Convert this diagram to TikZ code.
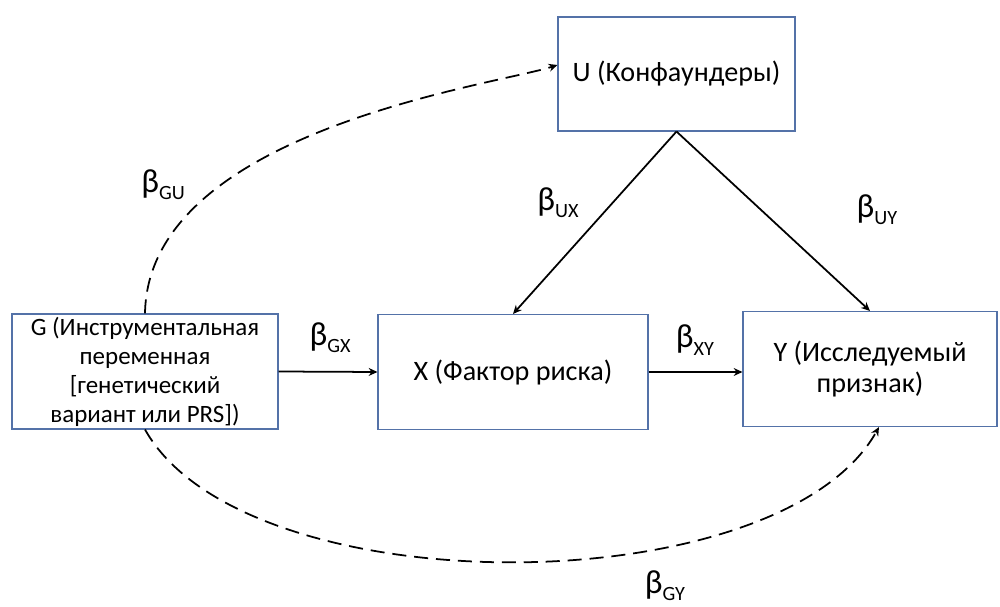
\documentclass[tikz,border=0pt]{standalone}
\usepackage{fontspec}
\setmainfont{Carlito}
\usetikzlibrary{arrows.meta}
\definecolor{borda}{RGB}{84,114,168}

% coeficiente beta com índice
\newcommand{\bcoef}[1]{β\raisebox{-0.22em}{\fontsize{11.5}{12}\selectfont #1}}

\begin{document}
\begin{tikzpicture}
  %--------------------------------------------
  % Размеры блоков
  %--------------------------------------------
  \def\bh{2.3cm}    % высота блока

  %--------------------------------------------
  % Стили
  %--------------------------------------------
  \tikzstyle{bloco} = [
    draw=borda, line width=0.6pt, rectangle,   % тонкий синий контур
    align=center, inner sep=0pt,
    minimum height=\bh, font=\fontsize{16}{17.5}\selectfont
  ]
  \tikzstyle{seta} = [line width=1pt, -{Stealth[length=5pt,width=4.5pt]}]
  \tikzstyle{tracejada} = [seta, dash pattern=on 8pt off 4.5pt]
  \tikzstyle{coef} = [font=\fontsize{19}{22}\selectfont, inner sep=0pt]

  \useasboundingbox (0,0) rectangle (20,12.12);

  %--------------------------------------------
  % Блоки
  %--------------------------------------------
  \node[bloco, minimum width=5.32cm, font=\fontsize{14.2}{16.5}\selectfont] (G) at (2.90,4.69)
    {G (Инструментальная\\переменная\\{[}генетический\\вариант или PRS])};
  \node[bloco, minimum width=5.40cm] (X) at (10.26,4.68) {X (Фактор риска)};
  \node[bloco, minimum width=5.08cm] (Y) at (17.40,4.74) {Y (Исследуемый\\признак)};
  \node[bloco, minimum width=4.74cm, minimum height=2.28cm] (U) at (13.53,10.64)
    {U (Конфаундеры)};

  %--------------------------------------------
  % Коэффициенты
  %--------------------------------------------
  \foreach \nome/\x/\y in {GU/3.26/8.42, GX/6.60/5.36, UX/11.16/8.06,
    UY/17.54/7.92, XY/13.90/5.32, GY/13.30/0.40}
  {
    \node[coef] (b\nome) at (\x,\y) {\bcoef{\nome}};
  }

  %--------------------------------------------
  % Стрелки
  %--------------------------------------------
  \draw[seta] (G.east) -- (X.west);
  \draw[seta] (X.east) -- (X.east -| Y.west);
  \draw[seta] (U.south) -- (X.north);
  \draw[seta] (U.south) -- (Y.north);

  % пунктирные дуги
  \draw[tracejada] (G.north) .. controls +(0.06,3.66) and +(-1.24,-0.4) .. ([yshift=0.18cm]U.west);
  \draw[tracejada] (G.south) .. controls +(2.0,-3.56) and +(-2.0,-3.56) .. ([xshift=0.18cm]Y.south);
\end{tikzpicture}
\end{document}
